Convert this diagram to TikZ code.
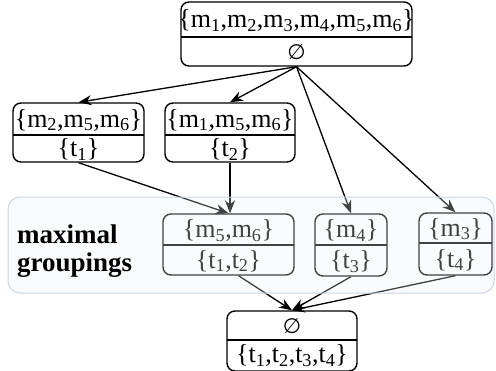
\documentclass[tikz,border=0pt]{standalone}
\usepackage{fontspec}
\setmainfont{Liberation Serif}
\newfontfamily\symfnt{DejaVu Sans}
\usetikzlibrary{arrows.meta,fit}
\definecolor{grpfill}{RGB}{232,240,250}
\definecolor{grpdraw}{RGB}{200,215,236}
\tikzset{
  x=1pt,y=-1pt,
  boxstyle/.style={draw=black,line width=1.4pt,rounded corners=8pt,inner sep=0pt},
  lbl/.style={inner sep=0pt,font=\fontsize{26}{30}\selectfont},
  arr/.style={draw=black,line width=1.3pt,-{Stealth[length=13pt,width=10pt]}},
}
\newcommand{\mybox}[8]{%
  \node[boxstyle,fit={(#2,#3) (#4,#5)}] (#1) {};
  \path (#2,#6) coordinate (#1l) (#4,#6) coordinate (#1r);
  \draw[line width=1.4pt] (#1l) -- (#1r);
  \node[lbl] (#1t) at ({(#2+#4)/2},{(#3+#6)/2+1}) {#7};
  \node[lbl] (#1b) at ({(#2+#4)/2},{(#6+#5)/2+1}) {#8};
}
\newcommand{\ms}[1]{m\textsubscript{#1}}
\newcommand{\ts}[1]{t\textsubscript{#1}}
\newcommand{\emptysym}{{\symfnt\fontsize{21}{26}\selectfont ∅}}
\begin{document}
\begin{tikzpicture}
\useasboundingbox (0,0) rectangle (496,370);
\mybox{top}{181}{2}{412}{66}{37}{\{\ms1,\ms2,\ms3,\ms4,\ms5,\ms6\}}{\emptysym}
\mybox{A}{13}{103}{144}{162}{135}{\{\ms2,\ms5,\ms6\}}{\{\ts1\}}
\mybox{B}{165}{103}{295}{162}{135}{\{\ms1,\ms5,\ms6\}}{\{\ts2\}}
\mybox{C}{163}{214}{294}{275}{245}{\{\ms5,\ms6\}}{\{\ts1,\ts2\}}
\mybox{D}{315}{214}{387}{276}{245}{\{\ms4\}}{\{\ts3\}}
\mybox{E}{419}{213}{492}{275}{243}{\{\ms3\}}{\{\ts4\}}
\mybox{F}{227}{311}{357}{371}{340}{\emptysym}{\raisebox{6pt}{\{\ts1,\ts2,\ts3,\ts4\}}}
\draw[arr] (top.south) -- (A.north);
\draw[arr] (top.south) -- (B.north);
\draw[arr] (top.south) -- (D.north);
\draw[arr] (top.south) -- (E.north);
\draw[arr] (A.south) -- (C.north);
\draw[arr] (B.south) -- (B.south |- C.north);
\draw[arr] ([xshift=10pt]C.south) -- (F.north);
\draw[arr] (D.south) -- (F.north);
\draw[arr] (E.south) -- (F.north);
\node[draw=grpdraw,fill=grpfill,fill opacity=0.28,line width=1pt,rounded corners=12pt,
      fit={(8,197) (494,293)},inner sep=0pt] (grp) {};
\node[font=\fontsize{27}{28}\selectfont\bfseries,align=left,anchor=base west,inner sep=0pt]
  (glbl) at (17,271) {maximal\\groupings};
\end{tikzpicture}
\end{document}
